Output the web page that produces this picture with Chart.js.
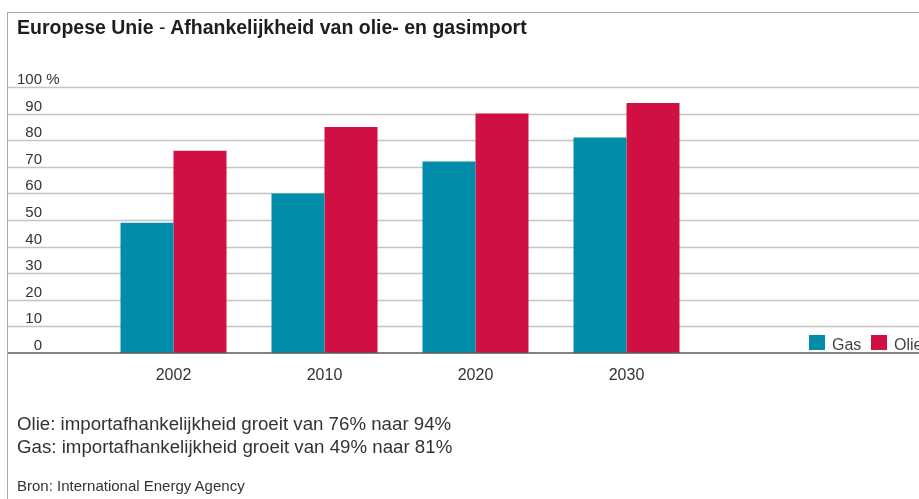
<!DOCTYPE html>
<html>
<head>
<meta charset="utf-8">
<script src="https://cdn.jsdelivr.net/npm/chart.js@4.4.1/dist/chart.umd.min.js"></script>
<style>
  html, body { margin: 0; padding: 0; background: #fff; overflow: hidden; }
  #wrap { position: relative; width: 919px; height: 499px; font-family: 'Liberation Sans', Arial, sans-serif; color: #333; }
  #frame { position: absolute; left: 7px; top: 12px; width: 911px; height: 487px; border-left: 1px solid #a8a8a8; border-top: 1px solid #a8a8a8; }
  #chart { position: absolute; left: 0; top: 0; }
  .txt { position: absolute; left: 17px; white-space: nowrap; }
  #title { top: 18px; font-size: 19.5px; line-height: 19px; font-weight: bold; color: #1e1e1e; }
  #title span { font-weight: normal; }
  #note1 { top: 414px; font-size: 18.7px; line-height: 19px; }
  #note2 { top: 437px; font-size: 18.7px; line-height: 19px; }
  #source { top: 478px; font-size: 15px; line-height: 15px; }
</style>
</head>
<body>
<div id="wrap">
  <div id="frame"></div>
  <canvas id="chart" width="919" height="499"></canvas>
  <div class="txt" id="title">Europese Unie <span>-</span> Afhankelijkheid van olie- en gasimport</div>
  <div class="txt" id="note1">Olie: importafhankelijkheid groeit van 76% naar 94%</div>
  <div class="txt" id="note2">Gas: importafhankelijkheid groeit van 49% naar 81%</div>
  <div class="txt" id="source">Bron: International Energy Agency</div>
</div>
<script>
// ------------------------------------------------------------
// DATA
// ------------------------------------------------------------
const years = ['2002', '2010', '2020', '2030'];
const gasValues = [49, 60, 72, 81];
const olieValues = [76, 85, 90, 94];
const yTicks = [0, 10, 20, 30, 40, 50, 60, 70, 80, 90, 100];
const seriesNames = ['Gas', 'Olie'];

const GAS_COLOR = '#018ca9';
const OLIE_COLOR = '#d01042';
const FONT = "'Liberation Sans', Arial, sans-serif";

// Full-width gridlines, labels sitting above each line, axis line and legend
const framePlugin = {
  id: 'frame',
  beforeDatasetsDraw(chart) {
    const { ctx, scales: { y } } = chart;
    ctx.save();
    ctx.strokeStyle = '#c4c4c4';
    ctx.lineWidth = 1.3;
    yTicks.forEach(v => {
      if (v === 0) return;
      const py = Math.round(y.getPixelForValue(v)) + 0.5;
      ctx.beginPath();
      ctx.moveTo(8, py);
      ctx.lineTo(chart.width, py);
      ctx.stroke();
    });
    ctx.fillStyle = '#333';
    ctx.font = '15px ' + FONT;
    ctx.textBaseline = 'alphabetic';
    yTicks.forEach(v => {
      const py = y.getPixelForValue(v) - 3;
      ctx.textAlign = 'right';
      ctx.fillText(String(v), 42, py);
      if (v === 100) {
        ctx.textAlign = 'left';
        ctx.fillText(' %', 42, py);
      }
    });
    ctx.restore();
  },
  afterDatasetsDraw(chart) {
    const { ctx, scales: { y } } = chart;
    ctx.save();
    const py = y.getPixelForValue(0);
    ctx.strokeStyle = '#5a5a5a';
    ctx.lineWidth = 1.6;
    ctx.beginPath();
    ctx.moveTo(8, py);
    ctx.lineTo(chart.width, py);
    ctx.stroke();

    // legend
    ctx.font = '16px ' + FONT;
    ctx.textAlign = 'left';
    ctx.textBaseline = 'alphabetic';
    const items = [
      { x: 809, color: GAS_COLOR, label: seriesNames[0] },
      { x: 871, color: OLIE_COLOR, label: seriesNames[1] }
    ];
    items.forEach(it => {
      ctx.fillStyle = it.color;
      ctx.fillRect(it.x, py - 18, 16, 15);
      ctx.fillStyle = '#444';
      ctx.fillText(it.label, it.x + 23, py - 3);
    });
    ctx.restore();
  }
};

new Chart(document.getElementById('chart'), {
  type: 'bar',
  data: {
    labels: years,
    datasets: [
      { label: seriesNames[0], data: gasValues, backgroundColor: GAS_COLOR, borderWidth: 0 },
      { label: seriesNames[1], data: olieValues, backgroundColor: OLIE_COLOR, borderWidth: 0 }
    ]
  },
  options: {
    responsive: false,
    animation: false,
    layout: { padding: { left: 98, right: 217, top: 87, bottom: 0 } },
    datasets: { bar: { categoryPercentage: 0.702, barPercentage: 1 } },
    plugins: { legend: { display: false }, tooltip: { enabled: false } },
    scales: {
      x: {
        grid: { display: false },
        border: { display: false },
        ticks: { color: '#333', padding: 5, font: { family: FONT, size: 16 } },
        afterFit: s => { s.height = 146; }
      },
      y: { display: false, min: 0, max: 100 }
    }
  },
  plugins: [framePlugin]
});
</script>
</body>
</html>
